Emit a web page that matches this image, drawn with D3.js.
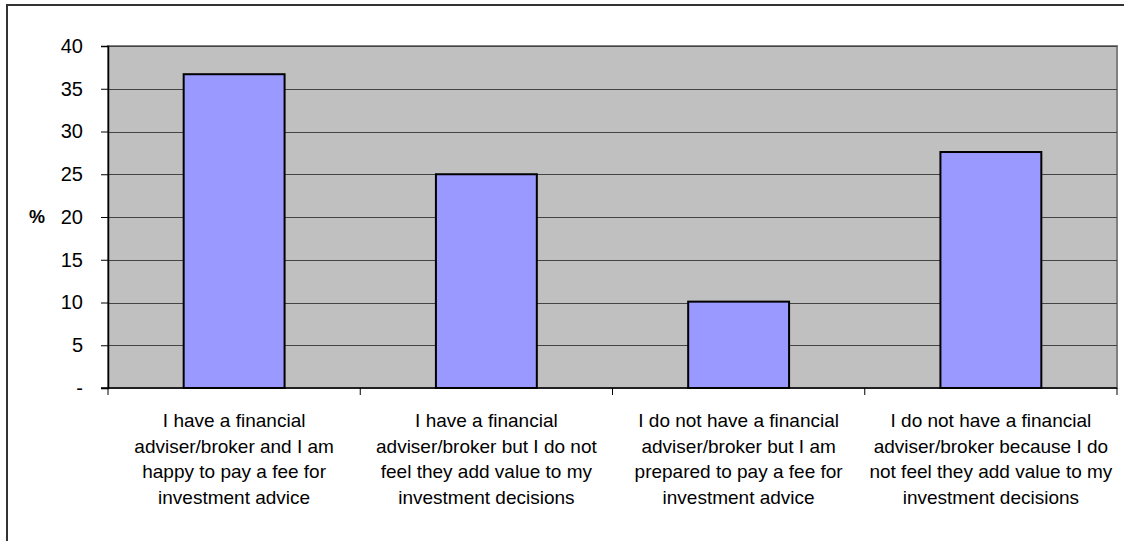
<!DOCTYPE html>
<html><head><meta charset="utf-8">
<script src="https://cdn.jsdelivr.net/npm/d3@7"></script>
<style>body{margin:0;background:#fff}svg{display:block}text{font-family:"Liberation Sans",Arial,sans-serif}</style>
</head><body><svg id="c" width="1124" height="541"></svg>
<script>
const categories = [
  ["I have a financial","adviser/broker and I am","happy to pay a fee for","investment advice"],
  ["I have a financial","adviser/broker but I do not","feel they add value to my","investment decisions"],
  ["I do not have a financial","adviser/broker but I am","prepared to pay a fee for","investment advice"],
  ["I do not have a financial","adviser/broker because I do","not feel they add value to my","investment decisions"]
];
const values = [36.7, 25.0, 10.1, 27.6];
const yTicks = [0,5,10,15,20,25,30,35,40];
const yTickLabels = ["-","5","10","15","20","25","30","35","40"];

const svg = d3.select("#c");
const L=108, R=1117, T=46, B=388;
// outer border
svg.append("rect").attr("x",7).attr("y",5).attr("width",1140).attr("height",560)
  .attr("fill","#fff").attr("stroke","#333").attr("stroke-width",2);

const x = d3.scaleBand().domain(d3.range(categories.length)).range([L,R]).paddingInner(0.6).paddingOuter(0.3);
const xo = d3.scaleBand().domain(d3.range(categories.length)).range([L,R]);
const y = d3.scaleLinear().domain([0,40]).range([B,T]);

svg.append("rect").attr("x",L).attr("y",T).attr("width",R-L).attr("height",B-T)
  .attr("fill","#C0C0C0").attr("stroke","#808080").attr("stroke-width",2);

svg.append("g").selectAll("line").data(yTicks.filter(d=>d>0)).join("line")
  .attr("x1",L).attr("x2",R).attr("y1",d=>Math.round(y(d))+0.5).attr("y2",d=>Math.round(y(d))+0.5)
  .attr("stroke","#444").attr("stroke-width",1);

svg.append("g").selectAll("rect").data(values).join("rect")
  .attr("x",(d,i)=>x(i)).attr("y",d=>y(d)).attr("width",x.bandwidth()).attr("height",d=>B-y(d))
  .attr("fill","#9999FF").attr("stroke","#000").attr("stroke-width",2);

// y axis
const ya = svg.append("g").attr("transform",`translate(${L},0)`)
  .call(d3.axisLeft(y).tickValues(yTicks).tickFormat((d,i)=>yTickLabels[i]).tickSize(7).tickPadding(18));
ya.select(".domain").attr("stroke","#000").attr("stroke-width",1.5);
ya.selectAll(".tick line").attr("stroke","#000");
ya.selectAll("text").attr("font-size",20).attr("fill","#000");

// x axis
const xa = svg.append("g").attr("transform",`translate(0,${B})`);
xa.append("line").attr("x1",L-7).attr("x2",R).attr("stroke","#000").attr("stroke-width",1.5);
xa.selectAll("line.t").data(d3.range(categories.length+1)).join("line").attr("class","t")
  .attr("x1",i=>i<categories.length?xo(i):R).attr("x2",i=>i<categories.length?xo(i):R)
  .attr("y1",0).attr("y2",7).attr("stroke","#000");

categories.forEach((lines,i)=>{
  const t = svg.append("text").attr("text-anchor","middle").attr("font-size",19).attr("fill","#000");
  lines.forEach((ln,j)=>t.append("tspan").attr("x",xo(i)+xo.bandwidth()/2).attr("y",427+j*25.7).text(ln));
});

svg.append("text").attr("x",37).attr("y",y(20)+6).attr("text-anchor","middle")
  .attr("font-size",18).attr("font-weight","bold").text("%");
</script></body></html>
